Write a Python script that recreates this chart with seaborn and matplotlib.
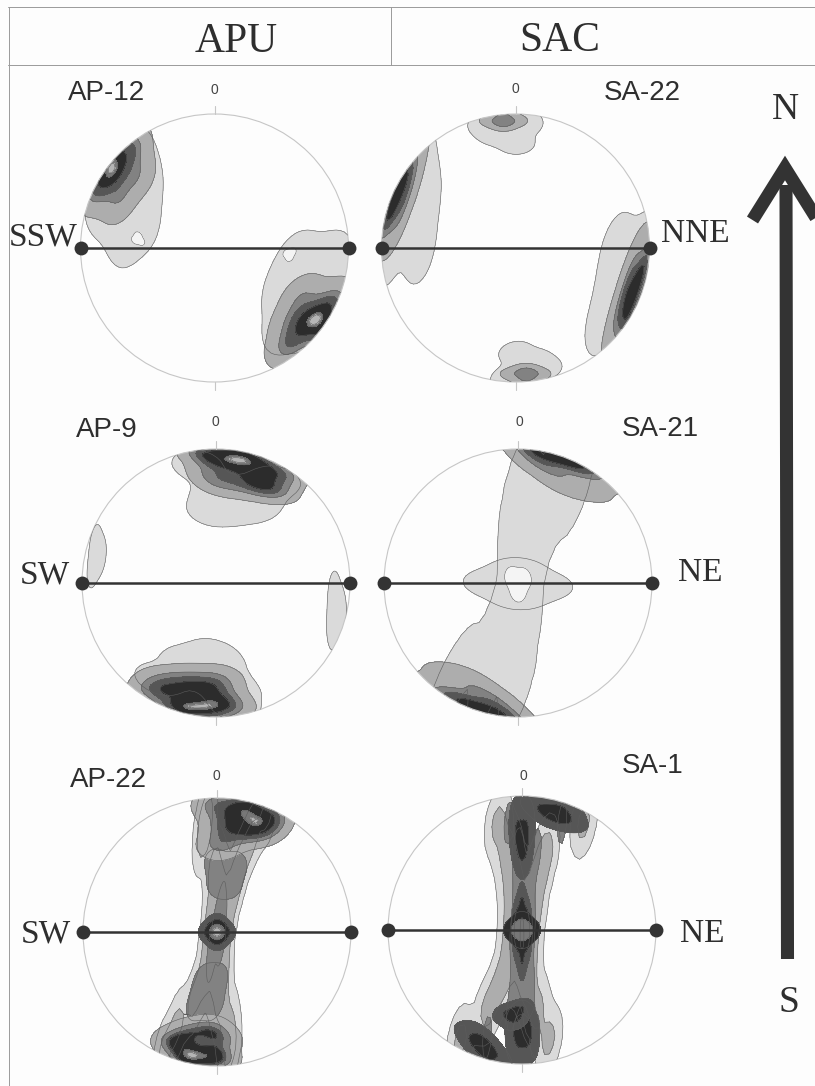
import matplotlib
matplotlib.use("Agg")
import matplotlib.pyplot as plt
from matplotlib.colors import ListedColormap
from matplotlib.patches import Circle
import seaborn as sns

AP12_NW_BASE_X = [-0.58, -0.52, -0.54, -0.68, -0.84, -0.78]
AP12_NW_BASE_Y = [0.68, 0.48, 0.20, 0.08, 0.30, 0.58]
AP12_NW_CORE_X = [-0.62, -0.76, -0.88, -0.72, -0.58, -0.80]
AP12_NW_CORE_Y = [0.74, 0.58, 0.44, 0.36, 0.54, 0.72]
AP12_NW_CORE_W = [3, 5, 3, 2, 2, 3]
AP12_SE_BASE_X = [0.62, 0.86, 0.52, 0.90, 0.52, 0.72]
AP12_SE_BASE_Y = [-0.08, -0.08, -0.30, -0.28, -0.58, -0.55]
AP12_SE_CORE_X = [0.56, 0.74, 0.88, 0.66, 0.58, 0.84]
AP12_SE_CORE_Y = [-0.72, -0.54, -0.40, -0.36, -0.54, -0.64]
AP12_SE_CORE_W = [3, 5, 3, 2, 2, 3]
AP12_HOLE_A_X = [-0.59, -0.57, -0.55]
AP12_HOLE_A_Y = [0.06, 0.09, 0.05]
AP12_HOLE_B_X = [0.54, 0.56, 0.58]
AP12_HOLE_B_Y = [-0.04, -0.07, -0.03]

SA22_N_BASE_X = [-0.22, 0.02, -0.15, 0.01, 0.06]
SA22_N_BASE_Y = [0.92, 0.97, 0.85, 0.78, 0.92]
SA22_N_CORE_X = [-0.18, -0.09, 0.00, -0.09]
SA22_N_CORE_Y = [0.95, 0.99, 0.95, 0.92]
SA22_N_CORE_W = [2, 3, 2, 3]
SA22_S_BASE_X = [0.22, -0.06, 0.14, 0.00, 0.04]
SA22_S_BASE_Y = [-0.90, -0.97, -0.84, -0.78, -0.93]
SA22_S_CORE_X = [-0.02, 0.08, 0.17, 0.08]
SA22_S_CORE_Y = [-0.94, -0.98, -0.94, -0.91]
SA22_S_CORE_W = [2, 3, 2, 3]
SA22_W_BASE_X = [-0.70, -0.82, -0.66, -0.92, -0.72, -0.98, -0.72, -0.96]
SA22_W_BASE_Y = [0.68, 0.68, 0.40, 0.40, 0.12, 0.12, -0.02, -0.05]
SA22_W_CORE_X = [-0.76, -0.84, -0.80, -0.90, -0.88, -0.96]
SA22_W_CORE_Y = [0.62, 0.55, 0.42, 0.38, 0.20, 0.20]
SA22_W_CORE_W = [2, 3, 2, 3, 2, 3]
SA22_E_BASE_X = [0.76, 0.96, 0.72, 0.96, 0.64, 0.84]
SA22_E_BASE_Y = [0.02, 0.04, -0.25, -0.25, -0.56, -0.56]
SA22_E_CORE_X = [0.96, 0.88, 0.90, 0.82, 0.82, 0.76]
SA22_E_CORE_Y = [-0.12, -0.12, -0.32, -0.32, -0.54, -0.52]
SA22_E_CORE_W = [3, 2, 3, 2, 3, 2]

AP9_N_BASE_X = [-0.14, 0.03, 0.28, 0.44, 0.12, -0.02, 0.26]
AP9_N_BASE_Y = [0.88, 0.68, 0.66, 0.76, 0.58, 0.54, 0.58]
AP9_N_CORE_X = [-0.08, -0.01, 0.10, 0.23, 0.25, 0.46, 0.40, 0.00, 0.22, 0.40]
AP9_N_CORE_Y = [0.95, 0.80, 0.92, 0.93, 0.78, 0.82, 0.72, 0.72, 0.70, 0.68]
AP9_N_CORE_W = [3, 2, 3, 4, 2, 3, 2, 1, 1, 1]
AP9_S_BASE_X = [-0.42, -0.22, 0.00, 0.14, -0.05, 0.13, -0.02]
AP9_S_BASE_Y = [-0.72, -0.60, -0.54, -0.78, -0.70, -0.92, -0.62]
AP9_S_CORE_X = [-0.44, -0.26, -0.26, -0.06, 0.00, 0.08, -0.10, -0.42, -0.20, 0.04]
AP9_S_CORE_Y = [-0.80, -0.93, -0.76, -0.94, -0.76, -0.90, -0.80, -0.70, -0.68, -0.68]
AP9_S_CORE_W = [3, 4, 2, 3, 2, 3, 2, 1, 1, 1]
AP9_W_X = [-0.90, -0.86, -0.92]
AP9_W_Y = [0.30, 0.20, 0.10]
AP9_E_X = [0.88, 0.93, 0.87]
AP9_E_Y = [-0.08, -0.22, -0.33]

SA21_RIDGE_X = [0.02, 0.25, 0.45, 0.00, 0.20, 0.42, -0.02, 0.22, 0.00, 0.14, -0.02, 0.06,
                -0.06, 0.02, -0.10, 0.05, -0.22, 0.04, -0.42, -0.20, 0.00, -0.55, -0.25, 0.00]
SA21_RIDGE_Y = [0.85, 0.85, 0.85, 0.65, 0.65, 0.65, 0.42, 0.42, 0.22, 0.22, 0.05, 0.05,
                -0.08, -0.08, -0.22, -0.22, -0.42, -0.42, -0.62, -0.62, -0.62, -0.80, -0.80, -0.80]
SA21_CROSS_X = [-0.20, 0.00, 0.20, 0.00]
SA21_CROSS_Y = [0.00, 0.09, -0.02, -0.10]
SA21_N_CORE_X = [0.10, 0.28, 0.46, 0.60, 0.34, 0.18, 0.50]
SA21_N_CORE_Y = [1.00, 0.96, 0.88, 0.80, 0.74, 0.88, 0.72]
SA21_N_CORE_W = [3, 4, 3, 1, 1, 2, 1]
SA21_S_CORE_X = [-0.62, -0.44, -0.26, -0.08, -0.36, -0.20, -0.50]
SA21_S_CORE_Y = [-0.80, -0.88, -0.96, -1.00, -0.72, -0.86, -0.72]
SA21_S_CORE_W = [1, 3, 4, 3, 1, 2, 1]
SA21_HOLE_X = [-0.04, 0.04, 0.00]
SA21_HOLE_Y = [0.04, 0.03, -0.06]

AP22_RIDGE_X = [-0.08, 0.38, -0.10, 0.26, -0.02, 0.17, 0.01, 0.12, -0.04, 0.06,
                -0.05, 0.04, -0.07, 0.03, -0.17, 0.03, -0.30, 0.08, -0.40, 0.10]
AP22_RIDGE_Y = [0.90, 0.90, 0.70, 0.70, 0.50, 0.50, 0.30, 0.30, 0.10, 0.10,
                -0.10, -0.10, -0.30, -0.30, -0.50, -0.50, -0.70, -0.70, -0.90, -0.90]
AP22_N_MID_X = [-0.01, 0.14, 0.10, 0.01]
AP22_N_MID_Y = [0.52, 0.50, 0.36, 0.36]
AP22_S_MID_X = [-0.10, 0.00, -0.03, -0.15]
AP22_S_MID_Y = [-0.36, -0.36, -0.54, -0.54]
AP22_N_CORE_X = [-0.02, 0.06, 0.02, 0.20, 0.20, 0.38, 0.33]
AP22_N_CORE_Y = [0.95, 0.80, 0.65, 0.92, 0.76, 0.85, 0.76]
AP22_N_CORE_W = [2, 2, 2, 4, 2, 3, 2]
AP22_S_CORE_X = [-0.32, -0.21, -0.20, -0.05, -0.05, 0.02, 0.03]
AP22_S_CORE_Y = [-0.82, -0.93, -0.75, -0.92, -0.72, -0.95, -0.80]
AP22_S_CORE_W = [3, 4, 2, 2, 2, 2, 2]
AP22_SPINE_X = [0.03, 0.00, 0.04, -0.04, 0.03, -0.04]
AP22_SPINE_Y = [0.22, 0.10, 0.10, -0.10, -0.10, -0.22]
AP22_EYE_X = [-0.06, 0.06, 0.00, 0.00]
AP22_EYE_Y = [0.00, 0.00, 0.06, -0.06]

SA1_RIDGE_X = [-0.18, 0.46, -0.11, 0.18, -0.07, 0.12, -0.06, 0.08, -0.07, 0.06,
               -0.08, 0.04, -0.16, 0.04, -0.26, 0.11, -0.46, 0.20]
SA1_RIDGE_Y = [0.80, 0.80, 0.60, 0.60, 0.40, 0.40, 0.20, 0.20, 0.00, 0.00,
               -0.20, -0.20, -0.40, -0.40, -0.60, -0.60, -0.82, -0.82]
SA1_SPINE_X = [-0.10, 0.30, -0.03, 0.11, -0.02, 0.05, -0.02, 0.05, -0.05, 0.06,
               -0.04, 0.03, -0.03, 0.05, -0.08, 0.05, -0.26, 0.10]
SA1_SPINE_Y = [0.80, 0.80, 0.60, 0.60, 0.40, 0.40, 0.20, 0.20, 0.00, 0.00,
               -0.20, -0.20, -0.40, -0.40, -0.60, -0.60, -0.80, -0.80]
SA1_NW_CORE_X = [-0.04, 0.04, -0.03, 0.03, 0.00]
SA1_NW_CORE_Y = [0.82, 0.82, 0.66, 0.66, 0.56]
SA1_NE_CORE_X = [0.14, 0.30, 0.22, 0.34]
SA1_NE_CORE_Y = [0.92, 0.92, 0.84, 0.82]
SA1_CENTER_X = [0.00, -0.04, 0.04, -0.04, 0.04, 0.00]
SA1_CENTER_Y = [0.22, 0.08, 0.08, -0.08, -0.08, -0.24]
SA1_EYE_X = [-0.06, 0.06, 0.00, 0.00]
SA1_EYE_Y = [0.00, 0.00, 0.06, -0.06]
SA1_SW_CORE_X = [-0.38, -0.20, -0.28, -0.30]
SA1_SW_CORE_Y = [-0.82, -0.92, -0.94, -0.80]
SA1_S_CORE_X = [-0.05, 0.05, -0.04, 0.05, 0.00]
SA1_S_CORE_Y = [-0.72, -0.72, -0.88, -0.86, -0.68]
SA1_S_NUB_X = [-0.13, -0.05, 0.00]
SA1_S_NUB_Y = [-0.62, -0.68, -0.58]

LINE_X = [-1, 1]
LINE_Y = [0, 0]

# grey bands from outer contour to the peak
BANDS = ["#dadada", "#adadad", "#828282", "#565656", "#2c2c2c", "#777777", "#b5b5b5", "#f4f4f4"]
OUTLINE = "#5c5c5c"

OUTER = [0.10, 1]
FULL = [0.04, 0.30, 0.50, 0.72, 0.93, 0.97, 1]
BROAD = [0.06, 0.24, 0.40, 0.58, 0.93, 0.98, 1]
SLIM = [0.04, 0.35, 0.55, 0.75, 1]


def blob(x, y, levels, first=0, w=None, bw=1.0):
    return dict(x=x, y=y, levels=levels, first=first, w=w, bw=bw)


panels = [
    dict(cx=214.5, cy=248, layers=[
        blob(AP12_NW_BASE_X, AP12_NW_BASE_Y, OUTER, bw=0.85),
        blob(AP12_NW_CORE_X, AP12_NW_CORE_Y, FULL, 1, AP12_NW_CORE_W, 0.95),
        blob(AP12_SE_BASE_X, AP12_SE_BASE_Y, OUTER, bw=0.85),
        blob(AP12_SE_CORE_X, AP12_SE_CORE_Y, FULL, 1, AP12_SE_CORE_W, 0.95),
        blob(AP12_HOLE_A_X, AP12_HOLE_A_Y, OUTER, 7),
        blob(AP12_HOLE_B_X, AP12_HOLE_B_Y, OUTER, 7),
    ]),
    dict(cx=515.5, cy=248, layers=[
        blob(SA22_N_BASE_X, SA22_N_BASE_Y, OUTER, bw=0.9),
        blob(SA22_N_CORE_X, SA22_N_CORE_Y, [0.1, 0.6, 1], 1, SA22_N_CORE_W, 1.1),
        blob(SA22_S_BASE_X, SA22_S_BASE_Y, OUTER, bw=0.9),
        blob(SA22_S_CORE_X, SA22_S_CORE_Y, [0.1, 0.6, 1], 1, SA22_S_CORE_W, 1.1),
        blob(SA22_W_BASE_X, SA22_W_BASE_Y, OUTER, bw=0.8),
        blob(SA22_W_CORE_X, SA22_W_CORE_Y, SLIM, 1, SA22_W_CORE_W, 1.2),
        blob(SA22_E_BASE_X, SA22_E_BASE_Y, OUTER, bw=0.8),
        blob(SA22_E_CORE_X, SA22_E_CORE_Y, SLIM, 1, SA22_E_CORE_W, 1.2),
    ]),
    dict(cx=216, cy=583, layers=[
        blob(AP9_N_BASE_X, AP9_N_BASE_Y, OUTER, bw=0.85),
        blob(AP9_N_CORE_X, AP9_N_CORE_Y, BROAD, 1, AP9_N_CORE_W, 0.95),
        blob(AP9_S_BASE_X, AP9_S_BASE_Y, OUTER, bw=0.85),
        blob(AP9_S_CORE_X, AP9_S_CORE_Y, BROAD, 1, AP9_S_CORE_W, 0.95),
        blob(AP9_W_X, AP9_W_Y, [0.2, 1], bw=1.2),
        blob(AP9_E_X, AP9_E_Y, [0.2, 1], bw=1.2),
    ]),
    dict(cx=518, cy=583, layers=[
        blob(SA21_RIDGE_X, SA21_RIDGE_Y, [0.05, 1], bw=0.55),
        blob(SA21_CROSS_X, SA21_CROSS_Y, [0.12, 1], bw=1.0),
        blob(SA21_N_CORE_X, SA21_N_CORE_Y, SLIM, 1, SA21_N_CORE_W, 1.0),
        blob(SA21_S_CORE_X, SA21_S_CORE_Y, SLIM, 1, SA21_S_CORE_W, 1.0),
        blob(SA21_HOLE_X, SA21_HOLE_Y, [0.1, 1], 7, bw=1.0),
    ]),
    dict(cx=217, cy=932, layers=[
        blob(AP22_RIDGE_X, AP22_RIDGE_Y, [0.05, 0.3, 1], bw=0.42),
        blob(AP22_N_MID_X, AP22_N_MID_Y, [0.15, 1], 2),
        blob(AP22_S_MID_X, AP22_S_MID_Y, [0.15, 1], 2),
        blob(AP22_N_CORE_X, AP22_N_CORE_Y, BROAD, 1, AP22_N_CORE_W, 0.95),
        blob(AP22_S_CORE_X, AP22_S_CORE_Y, BROAD, 1, AP22_S_CORE_W, 0.95),
        blob(AP22_SPINE_X, AP22_SPINE_Y, [0.1, 1], 2, bw=0.8),
        blob(AP22_EYE_X, AP22_EYE_Y, [0.1, 0.4, 0.7, 0.9, 1], 3, bw=1.2),
    ]),
    dict(cx=522, cy=930, layers=[
        blob(SA1_RIDGE_X, SA1_RIDGE_Y, [0.05, 0.3, 1], bw=0.42),
        blob(SA1_SPINE_X, SA1_SPINE_Y, [0.2, 1], 2, bw=0.42),
        blob(SA1_NW_CORE_X, SA1_NW_CORE_Y, [0.1, 0.6, 1], 3, bw=1.3),
        blob(SA1_NE_CORE_X, SA1_NE_CORE_Y, [0.1, 0.6, 1], 3, bw=1.3),
        blob(SA1_CENTER_X, SA1_CENTER_Y, [0.15, 0.55, 1], 3, bw=0.9),
        blob(SA1_SW_CORE_X, SA1_SW_CORE_Y, [0.1, 0.6, 1], 3, bw=1.3),
        blob(SA1_S_CORE_X, SA1_S_CORE_Y, [0.1, 0.6, 1], 3, bw=1.3),
        blob(SA1_S_NUB_X, SA1_S_NUB_Y, [0.2, 0.7, 1], 3, bw=1.2),
        blob(SA1_EYE_X, SA1_EYE_Y, [0.1, 0.5, 1], 4, bw=1.2),
    ]),
]

PX_W, PX_H = 815, 1086
RADIUS = 134
LIM = 1.16

sns.set_theme(style="white")
fig = plt.figure(figsize=(PX_W / 100, PX_H / 100), dpi=100, facecolor="#fdfdfd")

for p in panels:
    half = RADIUS * LIM
    ax = fig.add_axes([(p["cx"] - half) / PX_W, 1 - (p["cy"] + half) / PX_H,
                       2 * half / PX_W, 2 * half / PX_H])
    ax.patch.set_alpha(0)
    ax.axis("off")
    for layer in p["layers"]:
        common = dict(x=layer["x"], y=layer["y"], weights=layer["w"],
                      bw_adjust=layer["bw"], gridsize=34, ax=ax)
        # nested bands painted from the outside in
        for i, lev in enumerate(layer["levels"][:-1]):
            band = ListedColormap([BANDS[layer["first"] + i]])
            sns.kdeplot(fill=True, cmap=band, levels=[lev, 1], **common)
            sns.kdeplot(fill=False, colors=OUTLINE, linewidths=0.4, levels=[lev], **common)
    ring = Circle((0, 0), 1, fill=False, edgecolor="#c6c6c6", linewidth=0.8)
    ax.add_patch(ring)
    for coll in ax.collections:
        coll.set_clip_path(ring)
    ax.plot([0, 0], [1, 1.06], color="#c6c6c6", lw=0.8)
    ax.plot([0, 0], [-1, -1.06], color="#c6c6c6", lw=0.8)
    sns.lineplot(x=LINE_X, y=LINE_Y, color="#333333", linewidth=1.8, marker="o",
                 markersize=10, markeredgewidth=0, ax=ax)
    ax.set_xlim(-LIM, LIM)
    ax.set_ylim(-LIM, LIM)
    ax.set_aspect("equal")

# page furniture, drawn in pixel coordinates
page = fig.add_axes([0, 0, 1, 1])
page.patch.set_alpha(0)
page.axis("off")
page.set_xlim(0, PX_W)
page.set_ylim(PX_H, 0)

frame = "#9a9a9a"
page.plot([8, PX_W], [7, 7], color=frame, lw=0.7)
page.plot([8, PX_W], [64.5, 64.5], color=frame, lw=0.7)
page.plot([8.5, 8.5], [7, PX_H], color=frame, lw=0.7)
page.plot([390.5, 390.5], [7, 64.5], color=frame, lw=0.7)

arrow = "#333333"
page.plot([786, 787.5], [185, 959], color=arrow, lw=9.4, solid_capstyle="butt")
page.plot([752.5, 785, 817.5], [220, 168, 220], color=arrow, lw=9.4,
          solid_joinstyle="miter", solid_capstyle="butt")

serif = "Liberation Serif"
sans = "Liberation Sans"
ink = "#2e2e2e"
for txt, x, y, size in [("APU", 236, 42, 30), ("SAC", 560, 41, 30),
                        ("SSW", 43, 237, 24), ("NNE", 695, 234, 24),
                        ("SW", 45, 575, 24), ("NE", 700, 573, 24),
                        ("SW", 46, 934, 24), ("NE", 702, 934, 24),
                        ("N", 785, 110, 27), ("S", 789, 1003, 27)]:
    page.text(x, y, txt, family=serif, fontsize=size, color=ink, ha="center", va="center")
for txt, x, y in [("AP-12", 107, 93), ("SA-22", 642, 93), ("AP-9", 107, 430),
                  ("SA-21", 660, 429), ("AP-22", 108, 780), ("SA-1", 653, 766)]:
    page.text(x, y, txt, family=sans, fontsize=20, color=ink, ha="center", va="center")
for x, y in [(214, 90), (515, 89), (215, 422), (519, 422), (216, 776), (523, 776)]:
    page.text(x, y, "0", family=sans, fontsize=10, color="#444444", ha="center", va="center")

plt.savefig("out.png", dpi=100, facecolor=fig.get_facecolor())
